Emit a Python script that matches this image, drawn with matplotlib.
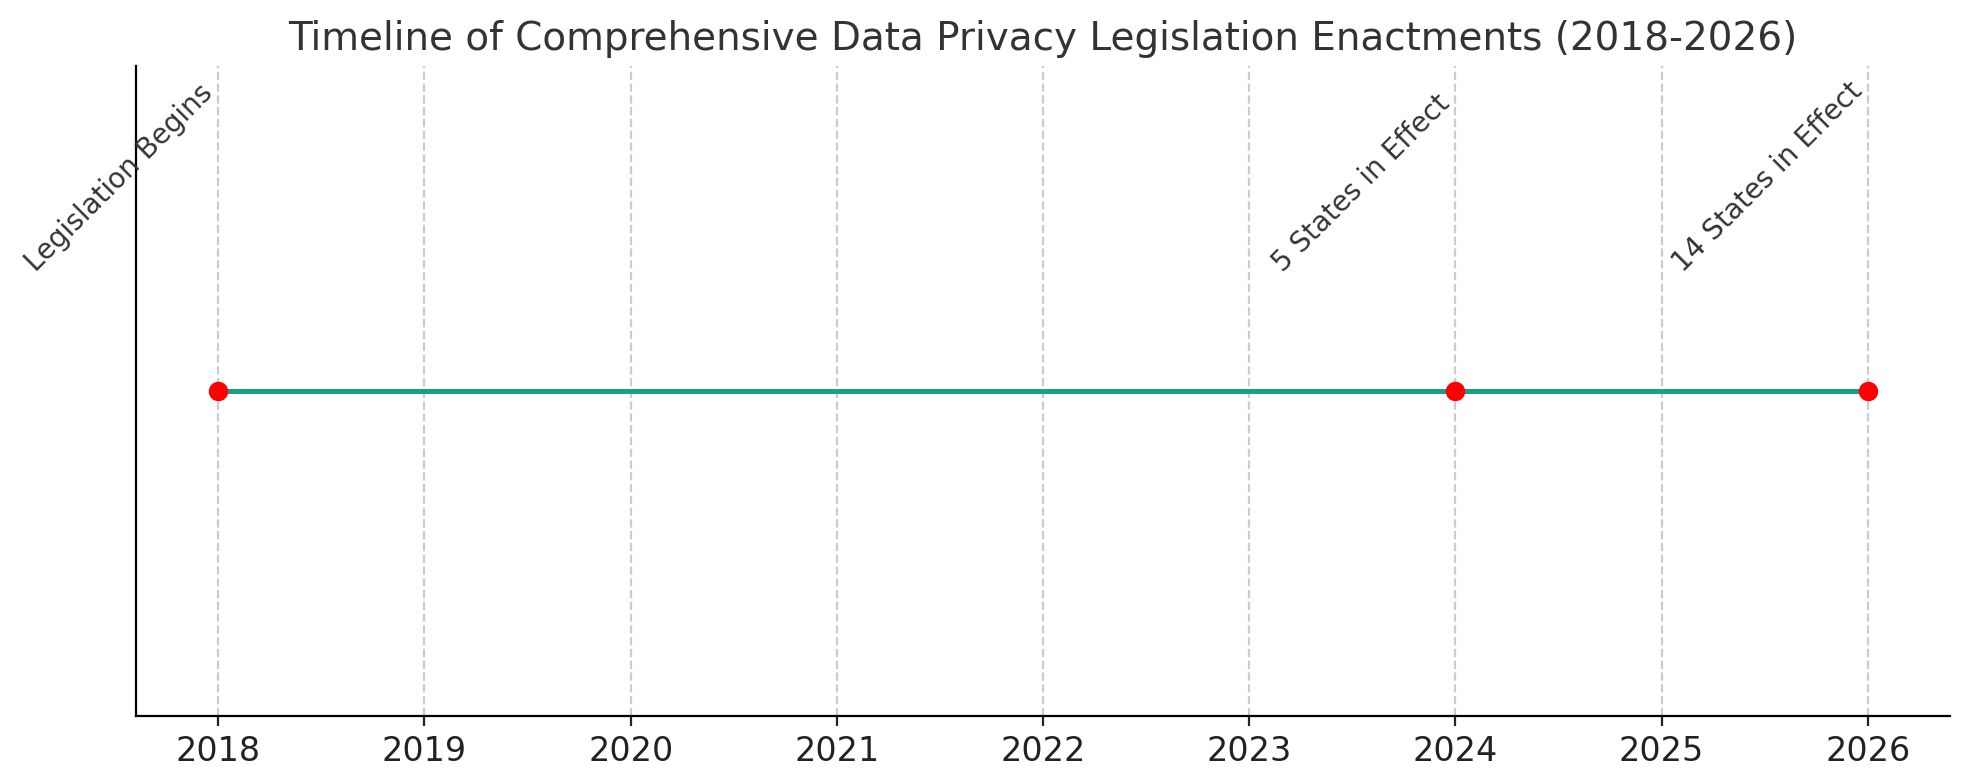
import matplotlib.pyplot as plt

# Datos
years = [2018, 2024, 2026]
levels = [0, 0, 0]
labels = ['Legislation Begins', '5 States in Effect', '14 States in Effect']
tick_years = list(range(2018, 2027))

fig, ax = plt.subplots(figsize=(9.84, 3.9), dpi=200)
fig.subplots_adjust(left=0.069, right=0.991, bottom=0.082, top=0.915)

ax.plot(years, levels, color='#16a085', linewidth=1.8, zorder=2)
ax.plot(years, levels, 'o', color='red', markersize=6, zorder=3)

for yr, lab in zip(years, labels):
    ax.text(yr, 0.35, lab, rotation=45, ha='right', va='bottom',
            fontsize=10, color='#333333')

ax.set_ylim(-1, 1)
ax.set_xticks(tick_years)
ax.tick_params(axis='x', labelsize=12, colors='#222222')
ax.set_yticks([])
ax.grid(axis='x', linestyle='--', color='#cccccc', linewidth=0.8)
ax.set_axisbelow(True)

ax.spines['top'].set_visible(False)
ax.spines['right'].set_visible(False)

ax.set_title('Timeline of Comprehensive Data Privacy Legislation Enactments (2018-2026)',
             fontsize=14, color='#333333')

plt.savefig('out.png', dpi=200)
